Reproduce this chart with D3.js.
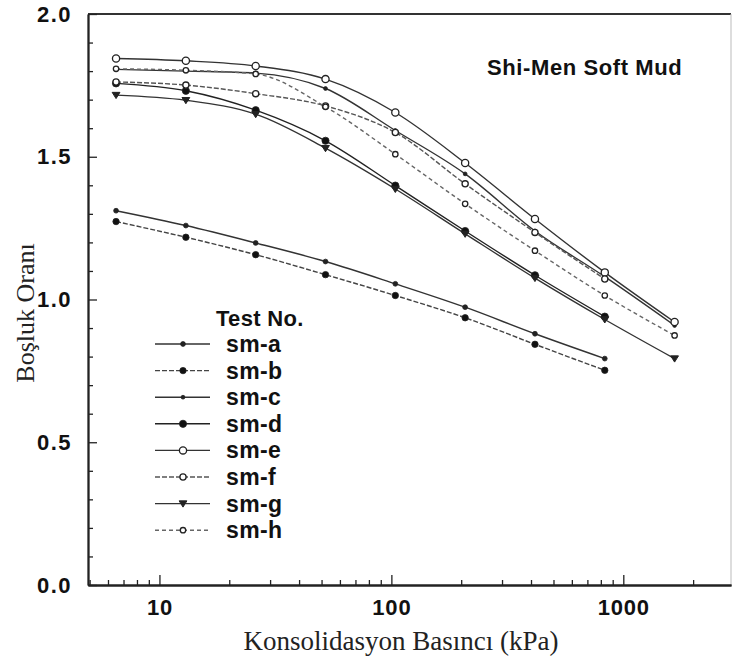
<!DOCTYPE html>
<html>
<head>
<meta charset="utf-8">
<script src="https://cdn.jsdelivr.net/npm/d3@7"></script>
<style>
  html, body { margin: 0; padding: 0; background: #fff; }
  svg { display: block; }
</style>
</head>
<body>
<svg id="chart" width="732" height="660"></svg>
<script>
// ---- data ----
const pressure = [6.5, 13, 26, 52, 104, 208, 416, 832, 1664];   // kPa
const smA = [1.311, 1.259, 1.198, 1.133, 1.055, 0.973, 0.880, 0.793];
const smB = [1.273, 1.218, 1.157, 1.087, 1.014, 0.936, 0.843, 0.752];
const smC = [1.806, 1.800, 1.793, 1.739, 1.592, 1.440, 1.240, 1.080, 0.909];
const smD = [1.757, 1.731, 1.663, 1.556, 1.399, 1.240, 1.085, 0.940];
const smE = [1.844, 1.836, 1.818, 1.772, 1.655, 1.478, 1.282, 1.095, 0.921];
const smF = [1.762, 1.751, 1.721, 1.678, 1.585, 1.405, 1.235, 1.072];
const smG = [1.716, 1.698, 1.649, 1.530, 1.387, 1.230, 1.075, 0.930, 0.793];
const smH = [1.808, 1.803, 1.790, 1.675, 1.509, 1.335, 1.171, 1.014, 0.874];
const seriesNames = ["sm-a", "sm-b", "sm-c", "sm-d", "sm-e", "sm-f", "sm-g", "sm-h"];
const seriesValues = [smA, smB, smC, smD, smE, smF, smG, smH];
const xMajorTicks = [10, 100, 1000];
const xMinorTicks = [5, 6, 7, 8, 9, 20, 30, 40, 50, 60, 70, 80, 90, 200, 300, 400, 500, 600, 700, 800, 900, 2000];
const yMajorTicks = [0, 0.5, 1.0, 1.5, 2.0];
const yMinorTicks = [0.1, 0.2, 0.3, 0.4, 0.6, 0.7, 0.8, 0.9, 1.1, 1.2, 1.3, 1.4, 1.6, 1.7, 1.8, 1.9];
const titleText = "Shi-Men Soft Mud";
const legendTitle = "Test No.";
const xTitle = "Konsolidasyon Basıncı (kPa)";
const yTitle = "Boşluk Oranı";

// ---- styles per series ----
const styles = {
  "sm-a": {marker: "circle", r: 2.4, fill: "#222", dash: null, stroke: "#333"},
  "sm-b": {marker: "circle", r: 3.2, fill: "#111", dash: "5,2", stroke: "#444"},
  "sm-c": {marker: "circle", r: 1.9, fill: "#222", dash: null, stroke: "#333"},
  "sm-d": {marker: "circle", r: 3.6, fill: "#111", dash: null, stroke: "#222"},
  "sm-e": {marker: "circle", r: 3.6, fill: "#fff", dash: null, stroke: "#333"},
  "sm-f": {marker: "circle", r: 3.1, fill: "#fff", dash: "5,2", stroke: "#555"},
  "sm-g": {marker: "triangle", r: 3.0, fill: "#222", dash: null, stroke: "#333"},
  "sm-h": {marker: "circle", r: 2.7, fill: "#fff", dash: "4,3", stroke: "#666"}
};

const svg = d3.select("#chart");
const pLeft = 88, pRight = 731, pTop = 14, pBottom = 585;

const x = d3.scaleLog().domain([4.92, 2913]).range([pLeft, pRight]);
const y = d3.scaleLinear().domain([0, 2]).range([pBottom, pTop]);

const sansBold = "'Liberation Sans', Arial, sans-serif";
const serif = "'Liberation Serif', 'Times New Roman', serif";

// frame top & right
svg.append("line").attr("x1", pLeft).attr("x2", pRight).attr("y1", pTop).attr("y2", pTop)
  .attr("stroke", "#333").attr("stroke-width", 1.8);
svg.append("line").attr("x1", pRight).attr("x2", pRight).attr("y1", pTop).attr("y2", pBottom)
  .attr("stroke", "#bbb").attr("stroke-width", 1);

// x axis
const gxMinor = svg.append("g").attr("transform", `translate(0,${pBottom})`)
  .call(d3.axisBottom(x).tickValues(xMinorTicks).tickSizeInner(-5).tickSizeOuter(0).tickFormat(""));
const gx = svg.append("g").attr("transform", `translate(0,${pBottom})`)
  .call(d3.axisBottom(x).tickValues(xMajorTicks).tickSizeInner(-10).tickSizeOuter(0)
    .tickPadding(14).tickFormat(d3.format("d")));
[gxMinor, gx].forEach(g => {
  g.select(".domain").attr("stroke", "#222").attr("stroke-width", 1.8);
  g.selectAll(".tick line").attr("stroke", "#222").attr("stroke-width", 1.3);
});
gx.selectAll(".tick text").attr("font-family", sansBold).attr("font-weight", "bold")
  .attr("font-size", 22).attr("letter-spacing", 0.8).attr("fill", "#111");

// y axis
const gyMinor = svg.append("g").attr("transform", `translate(${pLeft},0)`)
  .call(d3.axisLeft(y).tickValues(yMinorTicks).tickSizeInner(-5).tickSizeOuter(0).tickFormat(""));
const gy = svg.append("g").attr("transform", `translate(${pLeft},0)`)
  .call(d3.axisLeft(y).tickValues(yMajorTicks).tickSizeInner(-9).tickSizeOuter(0)
    .tickPadding(16).tickFormat(d3.format(".1f")));
[gyMinor, gy].forEach(g => {
  g.select(".domain").attr("stroke", "#222").attr("stroke-width", 1.8);
  g.selectAll(".tick line").attr("stroke", "#222").attr("stroke-width", 1.3);
});
gy.selectAll(".tick text").attr("font-family", sansBold).attr("font-weight", "bold")
  .attr("font-size", 22).attr("letter-spacing", 1.5).attr("fill", "#111");

// axis titles
svg.append("text").attr("x", 401).attr("y", 650).attr("text-anchor", "middle")
  .attr("font-family", serif).attr("font-size", 27).attr("fill", "#222").text(xTitle);
svg.append("text").attr("transform", "translate(34,313) rotate(-90)").attr("text-anchor", "middle")
  .attr("font-family", serif).attr("font-size", 26).attr("fill", "#222").text(yTitle);

// chart title
svg.append("text").attr("x", 487).attr("y", 75)
  .attr("font-family", sansBold).attr("font-weight", "bold").attr("font-size", 22)
  .attr("letter-spacing", 0.6).attr("fill", "#111").text(titleText);

// marker helper
function drawMarker(g, st, cx, cy) {
  if (st.marker === "triangle") {
    const s = st.r * 1.3;
    g.append("path")
      .attr("d", `M${cx - s},${cy - s * 0.7}L${cx + s},${cy - s * 0.7}L${cx},${cy + s * 0.9}Z`)
      .attr("fill", st.fill).attr("stroke", "#222").attr("stroke-width", 1);
  } else {
    g.append("circle").attr("cx", cx).attr("cy", cy).attr("r", st.r)
      .attr("fill", st.fill).attr("stroke", "#222").attr("stroke-width", st.fill === "#fff" ? 1.3 : 0.8);
  }
}

// series
const line = d3.line().x(d => x(d[0])).y(d => y(d[1])).curve(d3.curveMonotoneX);
seriesNames.forEach((name, i) => {
  const st = styles[name];
  const pts = seriesValues[i].map((v, j) => [pressure[j], v]);
  const g = svg.append("g");
  g.append("path").datum(pts).attr("d", line).attr("fill", "none")
    .attr("stroke", st.stroke).attr("stroke-width", 1.4)
    .attr("stroke-dasharray", st.dash);
  pts.forEach(p => drawMarker(g, st, x(p[0]), y(p[1])));
});

// legend
const lg = svg.append("g");
lg.append("text").attr("x", 216).attr("y", 326)
  .attr("font-family", sansBold).attr("font-weight", "bold").attr("font-size", 22)
  .attr("letter-spacing", 0.3).attr("fill", "#111").text(legendTitle);
seriesNames.forEach((name, i) => {
  const st = styles[name];
  const cy = 344 + i * 26.6;
  lg.append("line").attr("x1", 155).attr("x2", 210).attr("y1", cy).attr("y2", cy)
    .attr("stroke", st.stroke).attr("stroke-width", 1.4).attr("stroke-dasharray", st.dash);
  drawMarker(lg, st, 183, cy);
  lg.append("text").attr("x", 226).attr("y", cy + 8)
    .attr("font-family", sansBold).attr("font-weight", "bold").attr("font-size", 23)
    .attr("letter-spacing", 0.4).attr("fill", "#111").text(name);
});
</script>
</body>
</html>
